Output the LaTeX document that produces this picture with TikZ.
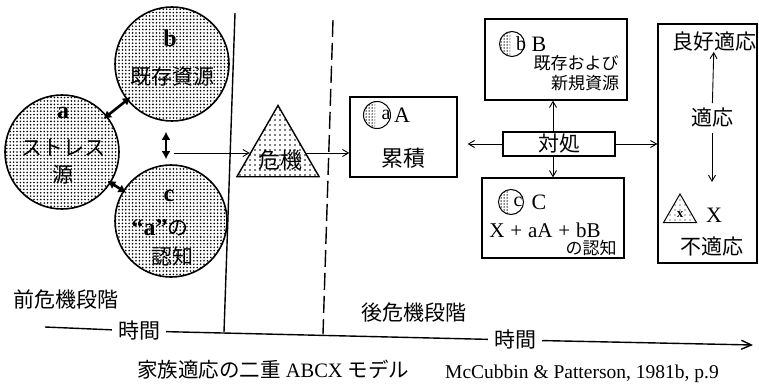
\documentclass[tikz,border=0pt]{standalone}
\usepackage{fontspec}
\setmainfont{Liberation Serif}
\newfontfamily\jp{Noto Sans CJK JP}
\usetikzlibrary{arrows.meta,patterns.meta,shapes.geometric,calc}
\tikzset{
 bigc/.style={circle,draw,line width=1.6pt,minimum size=#1,inner sep=0pt,pattern={Dots[distance=3.4pt,radius=0.9pt]}},
 smallc/.style={circle,draw,line width=1pt,minimum size=25pt,inner sep=0pt,
   path picture={\fill[pattern={Dots[distance=3pt,radius=0.75pt]}] (path picture bounding box.south west) rectangle ([xshift=-2pt]path picture bounding box.north);}},
 jt/.style={font=\jp\fontsize{21}{24}\selectfont,inner sep=0pt},
 js/.style={font=\jp\fontsize{17}{20}\selectfont,inner sep=0pt},
 lt/.style={font=\fontsize{24}{26}\selectfont\bfseries,inner sep=0pt},
 lr/.style={font=\fontsize{22}{24}\selectfont,inner sep=0pt},
 wl/.style={font=\fontsize{20}{22}\selectfont,inner sep=0pt},
 box/.style={draw,line width=1.3pt,inner sep=0pt,minimum width=#1},
 arr/.style={-{Straight Barb[length=6pt,width=7pt]},line width=0.9pt},
 dbl/.style={{Latex[length=8pt,width=9pt]}-{Latex[length=8pt,width=9pt]},line width=2.6pt},
 divline/.style={line width=1.4pt},
}
\begin{document}
\begin{tikzpicture}[x=1pt,y=-1pt]
\useasboundingbox (0,0) rectangle (759,390);

% dividing lines
\coordinate (s1) at (235,13);
\coordinate (s2) at (224,332);
\coordinate (d1) at (333,20);
\coordinate (d2) at (323,334);
\draw[divline] (s1) -- (s2);
\draw[divline,dash pattern=on 17pt off 6pt] (d1) -- (d2);

% circles
\node[bigc=114pt] (a) at (62,152) {};
\node[bigc=114pt] (b) at (172,64) {};
\node[bigc=112pt] (c) at (171,221) {};
\node[lt] (al) at (63,113) {a};
\node[jt] (a1) at (63,148) {ストレス};
\node[jt] (a2) at (63,175) {源};
\node[lt] (bl) at (170,38) {b};
\node[jt] (b1) at (172,77) {既存資源};
\node[lt] (cl) at (169,196) {c};
\node[jt] (c1) at (160,228) {{\normalfont\bfseries\fontsize{24}{26}\selectfont “a”}の};
\node[jt] (c2) at (172,256) {認知};

\draw[dbl,shorten <=-5pt,shorten >=-5pt] (a) -- (b);
\draw[dbl,shorten <=-4pt,shorten >=-4pt] (a) -- (c);
\draw[dbl] ([xshift=-6pt,yshift=-10pt]b.south) -- ([xshift=-5pt,yshift=5pt]c.north);

% crisis triangle
\node[regular polygon,regular polygon sides=3,minimum size=95pt,inner sep=0pt,draw,line width=1.4pt,pattern={Dots[distance=5pt,radius=0.8pt]}] (tri) at (278,153) {};
\node[jt,font=\jp\fontsize{22}{24}\selectfont] (trit) at (280,160) {危機};
\coordinate (st) at (174,153);
\draw[arr] (st) -- (tri);

% box A
\node[box=107pt,minimum height=80pt] (A) at (403.5,137) {};
\node[smallc,minimum size=27pt] (Ac) at (377,115) {};
\node[wl] (Al) at (386,115) {a};
\node[lr] (AL) at (402,115) {A};
\node[jt,font=\jp\fontsize{22}{24}\selectfont] (A1) at (403,158) {累積};
\draw[arr] (tri) -- (tri -| A.west);

% box B
\node[box=142pt,minimum height=81pt] (B) at (556,59.5) {};
\node[smallc] (Bc) at (512,44) {};
\node[wl] (Bl) at (521,44) {b};
\node[lr] (BL) at (539,44) {B};
\node[js] (B1) at (576,63) {既存および};
\node[js] (B2) at (585,83) {新規資源};

% box C
\node[box=142pt,minimum height=80pt] (C) at (553,218) {};
\node[smallc] (Cc) at (511,202) {};
\node[wl] (Cl) at (518,202) {c};
\node[lr] (CL) at (539,202) {C};
\node[lr,font=\fontsize{21}{24}\selectfont] (C1) at (545,230) {X\;+\;aA\;+\;bB};
\node[js] (C2) at (591,248) {の認知};

% coping box
\node[box=112pt,minimum height=24pt,jt] (T) at (559,144) {対処};
\draw[arr] ([xshift=-6pt]T.north) -- ([xshift=-6pt]T.north |- B.south);
\draw[arr] ([xshift=-6pt]T.south) -- ([xshift=-6pt]T.south |- C.north);
\draw[arr,shorten >=10pt] (T) -- (T -| A.east);

% right box
\node[box=99pt,minimum height=239pt] (R) at (707.5,143.5) {};
\draw[arr] (T) -- (T -| R.west);
\node[jt] (good) at (714,42) {良好適応};
\node[jt] (ad) at (712,118) {適応};
\node[jt] (bad) at (712,247) {不適応};
\node[lr] (X) at (714,215) {X};
\node[regular polygon,regular polygon sides=3,minimum size=38pt,inner sep=0pt,draw,line width=1pt,pattern={Dots[distance=5pt,radius=0.7pt]}] (xt) at (680,213) {};
\node[font=\fontsize{13}{13}\selectfont\bfseries,inner sep=0.5pt,fill=white] (xtl) at (680,215) {x};
\coordinate (dn) at (712,182);
\draw[arr,shorten <=5pt] (ad) -- (good);
\draw[arr,shorten <=5pt] (ad) -- (dn);

% phases and time
\node[jt] (pre) at (66,300) {前危機段階};
\node[jt] (post) at (414,313) {後危機段階};
\coordinate (tl0) at (45,327);
\coordinate (tl9) at (753,345);
\node[jt,inner sep=6pt] (t1) at (139,331) {時間};
\node[jt,inner sep=6pt] (t2) at (515,340) {時間};
\draw[divline] (tl0) -- (t1);
\draw[divline] (t1) -- (t2);
\draw[divline,-{Straight Barb[length=10pt,width=9pt]}] (t2) -- (tl9);

% caption
\node[anchor=west,inner sep=0pt,font=\fontsize{20.5}{22}\selectfont] (cap) at (137,370) {{\jp 家族適応の二重} ABCX {\jp モデル}};
\node[anchor=west,inner sep=0pt,font=\fontsize{19.5}{22}\selectfont] (ref) at (445,374) {McCubbin \& Patterson, 1981b, p.9};
\end{tikzpicture}
\end{document}
